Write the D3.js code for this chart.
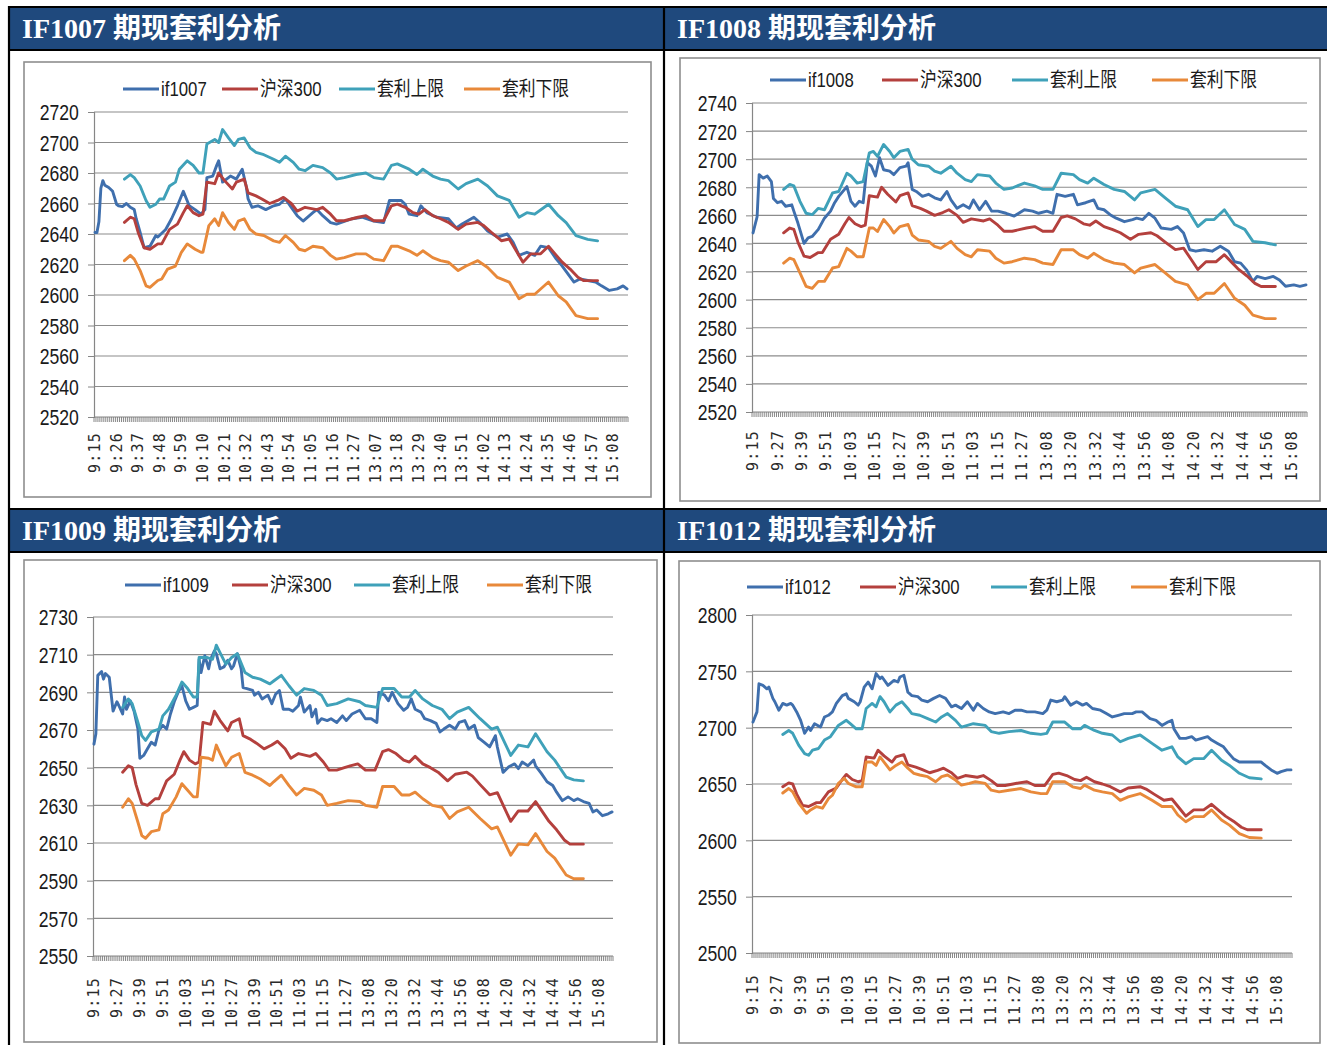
<!DOCTYPE html>
<html>
<head>
<meta charset="utf-8">
<script src="https://cdn.jsdelivr.net/npm/d3@7/dist/d3.min.js"></script>
<style>
body{margin:0;background:#fff;}
</style>
</head>
<body>
<svg id="chart" width="1327" height="1045"></svg>
<script>
// 交易时段 (期货 9:15-11:30, 13:00-15:15), 数据点为 [第几分钟, 点位]
var sessions = [["9:15","11:30"],["13:00","15:15"]];

var hs300 = [[15,2647.6],[18,2651],[20,2650],[22,2641],[25,2631],[28,2630],[32,2633.5],[34,2633.5],[38,2643],[42,2646.5],[45,2654],[47,2658.5],[50,2654],[53,2652],[55,2653],[57,2674],[61,2673],[63,2680],[66,2675],[70,2669.5],[72,2674],[76,2676],[78,2667],[82,2665],[85,2663],[89,2660],[93,2662],[96,2664],[100,2660],[103,2655],[107,2657.5],[113,2656],[116,2657.5],[120,2653],[123,2648.7],[127,2648.7],[131,2650],[134,2651],[138,2652],[142,2648.7],[147,2648.7],[151,2658.5],[154,2659.6],[158,2657.5],[162,2654],[165,2653],[168,2656],[172,2652],[176,2650],[180,2647.6],[185,2643],[189,2646.5],[195,2647.6],[198,2645.5],[202,2641],[207,2635.6],[211,2636.7],[215,2628],[218,2621.5],[222,2627],[227,2627],[231,2632],[235,2626],[238,2621.5],[242,2617],[246,2611.6],[249,2609.4],[256,2609.4]];

var if1007 = [[0,2641],[1,2641],[2,2648],[3,2670],[4,2675],[5,2672],[7,2670.5],[9,2668],[11,2659.5],[12,2658.5],[14,2658],[16,2660],[18,2657.5],[20,2656],[21,2650],[23,2641],[25,2631],[28,2632],[31,2639],[32,2638],[36,2643],[39,2650],[42,2658.5],[45,2668],[48,2658.5],[51,2656],[54,2653],[56,2656],[57,2677],[60,2678],[62,2685],[63,2688],[65,2674],[69,2678],[72,2676],[75,2682.5],[77,2671.5],[78,2663],[80,2657.5],[83,2658.5],[87,2656],[91,2658.5],[94,2659.5],[97,2663],[100,2657.5],[103,2652],[106,2648.5],[111,2654],[113,2656],[116,2652],[120,2647.5],[123,2646.5],[131,2650],[136,2651],[142,2648.5],[147,2647.5],[150,2662],[156,2662],[158,2659.5],[160,2653],[164,2652],[166,2658.5],[169,2654],[174,2651],[180,2650],[184,2644],[187,2646.5],[193,2651],[196,2647.5],[200,2642],[205,2638],[210,2640],[213,2634.5],[216,2626],[220,2628],[224,2626],[227,2632],[231,2631],[235,2623.5],[238,2619],[244,2608.5],[247,2610.5],[255,2608.5],[258,2606],[262,2603],[266,2604],[269,2606],[271,2604]];
var up1007 = [[15,2676],[18,2679],[20,2677],[23,2671.5],[26,2662],[28,2657.5],[31,2659.5],[33,2663],[35,2663],[38,2671.5],[41,2674],[43,2682.5],[47,2688],[50,2685],[53,2680],[55,2680],[57,2699],[61,2702],[63,2700],[65,2708.5],[68,2703],[71,2698],[73,2702],[76,2703],[79,2696.5],[82,2693.5],[86,2692],[91,2689],[94,2687],[97,2691],[101,2687],[104,2682.5],[107,2681.5],[111,2685],[116,2683.5],[120,2680],[123,2676],[127,2677],[133,2679],[138,2680],[142,2677],[147,2676],[151,2685],[154,2686],[160,2682.5],[164,2679],[167,2682.5],[172,2678],[176,2676],[180,2675],[185,2669.5],[189,2673],[195,2676],[200,2671.5],[205,2665],[211,2662],[216,2651],[220,2654],[224,2653],[231,2659.5],[236,2652],[240,2647.5],[245,2639],[251,2636.5],[256,2635.5]];
var low1007 = [[15,2622.5],[18,2626],[20,2623.5],[23,2616],[26,2606],[28,2605],[32,2609.5],[34,2610.5],[37,2617],[41,2619],[44,2628],[47,2633.5],[51,2630],[54,2628],[55,2628],[58,2645.5],[61,2650],[63,2645.5],[65,2654],[68,2647.5],[71,2643],[73,2648.5],[76,2650],[79,2643],[82,2640],[86,2639],[91,2635.5],[94,2634.5],[97,2639],[101,2634.5],[104,2630],[107,2629],[111,2632],[116,2631],[120,2626],[123,2623.5],[127,2624.5],[133,2627],[138,2627],[142,2623.5],[147,2622.5],[151,2632],[154,2632],[160,2629],[164,2626],[167,2629],[172,2624.5],[176,2622.5],[180,2621.5],[185,2616],[189,2619],[195,2622.5],[200,2618],[205,2611.5],[211,2608.5],[216,2597.5],[220,2600.5],[224,2600.5],[231,2608.5],[236,2599.5],[240,2595.5],[245,2586.5],[251,2584.5],[256,2584.5]];

var if1008 = [[0,2647.5],[2,2659],[3,2689],[5,2686.5],[7,2688],[9,2684],[10,2672],[12,2669],[14,2670],[16,2666.5],[19,2667.5],[20,2663],[22,2654.5],[25,2640],[27,2644],[29,2645],[32,2650],[35,2658],[38,2663],[40,2669],[42,2673.5],[46,2680.5],[48,2670],[50,2666.5],[52,2670],[54,2669],[56,2697.5],[58,2695],[60,2688],[62,2701],[64,2692.5],[67,2691.5],[69,2689],[72,2694],[75,2695],[76,2697.5],[78,2678.5],[80,2677],[83,2673.5],[86,2675],[89,2672.5],[92,2671],[95,2677],[97,2671],[100,2665],[103,2667.5],[106,2665],[108,2671],[111,2664],[114,2670],[117,2663],[120,2663],[124,2661.5],[128,2659.5],[133,2664],[137,2663],[140,2661.5],[144,2663],[147,2661.5],[149,2675],[153,2673.5],[157,2675],[159,2667.5],[163,2669],[167,2671],[169,2665],[172,2664],[175,2660.5],[178,2658],[182,2655.5],[186,2657],[188,2658],[191,2657],[194,2661.5],[197,2658],[200,2651],[205,2650],[208,2652],[211,2647.5],[214,2635.5],[217,2634.5],[221,2635.5],[225,2634.5],[229,2638],[233,2634.5],[236,2627],[239,2626],[242,2621],[245,2613],[247,2616.5],[251,2615],[255,2616.5],[258,2614],[261,2609.5],[265,2610.5],[268,2609.5],[271,2610.5]];
var up1008 = [[15,2678.5],[18,2682],[20,2681],[23,2670],[26,2661.5],[29,2660.5],[32,2665],[35,2664],[39,2676],[42,2677],[46,2690],[48,2688],[51,2683],[54,2684],[57,2704.5],[59,2705.5],[61,2702],[64,2710.5],[67,2705.5],[69,2701],[72,2705.5],[76,2707],[78,2700],[81,2696],[86,2695],[89,2691.5],[92,2690],[97,2695],[100,2690],[104,2685.5],[107,2684],[110,2689],[116,2688],[119,2683],[123,2678.5],[127,2679.5],[133,2683],[138,2681],[142,2678.5],[147,2678.5],[151,2690],[157,2689],[160,2685.5],[164,2683],[167,2686.5],[172,2682],[177,2678.5],[182,2677],[187,2671],[190,2676],[197,2678.5],[202,2672.5],[207,2666.5],[213,2664],[218,2652],[222,2657],[226,2657],[231,2664],[236,2653.5],[241,2650],[245,2641.5],[251,2640.5],[256,2639]];
var low1008 = [[15,2626],[18,2629.5],[20,2628.5],[23,2619],[26,2609.5],[29,2608],[32,2613],[35,2613],[39,2622.5],[42,2623.5],[46,2636.5],[48,2634.5],[51,2630.5],[54,2630.5],[57,2651],[59,2651],[61,2648.5],[64,2657],[67,2652],[69,2647.5],[72,2652],[76,2653.5],[78,2646],[81,2642.5],[86,2641.5],[89,2638],[92,2636.5],[97,2641.5],[100,2636.5],[104,2632],[107,2630.5],[110,2635.5],[116,2634.5],[119,2629.5],[123,2626],[127,2627],[133,2629.5],[138,2628.5],[142,2626],[147,2625],[151,2635.5],[157,2635.5],[160,2632],[164,2629.5],[167,2633],[172,2628.5],[177,2626],[182,2625],[187,2619],[190,2622.5],[197,2625],[202,2619],[207,2613],[213,2610.5],[218,2600],[222,2604.5],[226,2604.5],[231,2611.5],[236,2601],[241,2596],[245,2589],[251,2586.5],[256,2586.5]];

var if1009 = [[0,2662.5],[1,2668],[2,2699],[4,2701],[5,2697],[6,2700],[8,2698],[9,2689],[10,2680],[12,2685],[13,2683],[15,2678.5],[16,2687.5],[17,2681],[19,2685.5],[21,2680],[23,2670.5],[24,2655],[26,2656.5],[28,2660],[30,2663.5],[32,2662],[34,2670],[36,2672.5],[38,2670.5],[40,2678.5],[42,2685],[44,2690],[46,2693.5],[48,2685.5],[50,2681],[52,2682],[54,2683],[55,2707.5],[56,2700.5],[58,2709.5],[60,2702.5],[61,2707.5],[63,2712],[64,2710.5],[66,2702.5],[68,2703.5],[70,2707],[72,2702.5],[73,2704],[75,2710.5],[77,2702.5],[78,2692.5],[80,2692],[83,2691],[84,2688.5],[86,2690],[88,2686.5],[91,2688.5],[93,2684],[95,2689],[97,2691],[99,2681],[102,2681],[104,2680],[107,2683],[108,2687.5],[110,2679.5],[113,2683],[114,2677],[116,2681],[117,2673.5],[119,2676],[122,2675],[124,2676],[127,2674],[130,2677.5],[132,2675],[135,2678.5],[139,2680.5],[142,2676],[145,2676],[148,2674],[149,2690],[152,2688.5],[154,2685.5],[156,2690],[159,2684],[162,2680.5],[164,2682],[166,2686.5],[168,2681],[171,2679.5],[173,2676],[176,2675],[179,2673.5],[181,2669],[183,2670.5],[186,2672.5],[189,2670.5],[191,2674],[194,2675],[196,2670.5],[199,2672.5],[201,2666],[204,2663.5],[207,2661],[210,2667],[211,2661],[214,2647.5],[217,2650.5],[220,2652],[222,2649.5],[224,2653],[227,2651],[230,2654],[231,2651],[234,2647],[237,2642.5],[240,2640.5],[242,2637],[245,2632.5],[248,2634.5],[251,2632.5],[253,2633.5],[256,2632],[259,2631],[261,2626.5],[263,2627.5],[266,2624.5],[269,2625.5],[271,2626.5]];
var up1009 = [[15,2682],[18,2686.5],[20,2684],[23,2674],[25,2667],[27,2664.5],[30,2669],[34,2670.5],[36,2677.5],[39,2681],[43,2688.5],[46,2695.5],[49,2692],[52,2687.5],[54,2687.5],[55,2708.5],[59,2708.5],[62,2707.5],[64,2715],[66,2711],[69,2705],[72,2708.5],[75,2710.5],[79,2700.5],[83,2698],[87,2697],[92,2694.5],[94,2696],[98,2699],[102,2693.5],[106,2688.5],[110,2692],[115,2691],[119,2688.5],[122,2683],[127,2684],[133,2686.5],[139,2685],[142,2683],[148,2682],[151,2692],[157,2692],[161,2687.5],[165,2687.5],[168,2691],[172,2686.5],[177,2683],[182,2681],[186,2676],[190,2679.5],[196,2682],[202,2676],[208,2670.5],[211,2671.5],[218,2656.5],[222,2662],[227,2661],[231,2668],[237,2658.5],[241,2654],[247,2645],[251,2643.5],[256,2643]];
var low1009 = [[15,2629],[18,2633.5],[20,2631],[23,2621],[25,2614],[27,2612.5],[30,2616],[34,2617],[36,2625.5],[39,2627.5],[43,2634.5],[46,2641.5],[49,2638],[52,2634.5],[54,2634.5],[56,2655.5],[60,2655],[62,2654],[64,2662],[66,2657.5],[69,2651],[72,2655.5],[76,2657.5],[79,2647.5],[83,2646],[87,2644],[92,2640.5],[94,2642.5],[98,2646],[102,2640.5],[106,2635.5],[110,2639],[115,2638],[119,2635.5],[122,2630],[127,2631],[133,2632.5],[139,2632],[142,2630],[148,2629],[151,2640],[157,2640],[161,2635.5],[165,2635.5],[168,2637],[172,2633.5],[177,2630],[182,2629],[186,2623],[190,2626.5],[196,2629],[202,2623],[208,2617.5],[211,2618.5],[218,2603.5],[222,2609.5],[227,2609],[231,2615],[237,2605.5],[241,2602],[247,2593],[251,2591],[256,2591]];

var if1012 = [[0,2705],[2,2714],[3,2739],[5,2737.5],[7,2734.5],[8,2736],[10,2726],[11,2723],[13,2715.5],[15,2721.5],[17,2720],[19,2721.5],[20,2720],[22,2714],[24,2706.5],[26,2695],[28,2700.5],[29,2697.5],[31,2703.5],[34,2700.5],[36,2709.5],[38,2711],[40,2714],[42,2721.5],[45,2728.5],[47,2730],[48,2726],[51,2723],[53,2720],[54,2723],[56,2736],[58,2740.5],[60,2734.5],[62,2748],[64,2743.5],[65,2745],[68,2737.5],[71,2742],[73,2740.5],[74,2745],[76,2746.5],[78,2731.5],[80,2728.5],[83,2727.5],[85,2724.5],[88,2723],[91,2726],[94,2728.5],[97,2726],[100,2718.5],[102,2720],[105,2717],[108,2723],[111,2715.5],[113,2721.5],[116,2717],[119,2714],[122,2712.5],[126,2714],[129,2712.5],[132,2715.5],[135,2715.5],[138,2714],[142,2714],[146,2712.5],[148,2715.5],[150,2724.5],[153,2723],[156,2724.5],[157,2727.5],[160,2720],[163,2723],[166,2720],[168,2721.5],[171,2717],[175,2715.5],[178,2712.5],[181,2709.5],[184,2711],[187,2712.5],[191,2712.5],[193,2714],[196,2714],[200,2708],[203,2706.5],[206,2702],[209,2705],[211,2706.5],[212,2699],[215,2690.5],[218,2690.5],[221,2692],[223,2689],[226,2690.5],[229,2692],[231,2689],[234,2686],[237,2683],[239,2678.5],[242,2672.5],[245,2669.5],[248,2669.5],[250,2669.5],[253,2669.5],[256,2669.5],[258,2666.5],[261,2662.5],[264,2659.5],[266,2661],[269,2662.5],[271,2662.5]];
var up1012 = [[15,2694],[18,2697.5],[20,2695],[23,2684.5],[26,2677],[28,2675.5],[30,2680],[33,2681.5],[36,2689],[39,2692],[43,2702],[47,2706.5],[49,2703.5],[52,2699],[55,2699],[57,2717],[60,2721.5],[62,2718.5],[64,2727.5],[66,2723],[69,2714],[72,2720],[75,2723],[78,2717],[80,2712.5],[84,2711],[88,2708],[92,2705],[95,2709.5],[98,2712.5],[102,2706.5],[105,2700.5],[108,2702],[111,2703.5],[117,2702],[120,2696.5],[124,2695],[129,2696.5],[135,2697.5],[140,2695],[145,2694],[148,2695],[151,2705],[157,2705],[161,2699],[165,2699],[167,2702],[172,2697.5],[176,2695],[181,2693.5],[185,2687.5],[189,2690.5],[195,2693.5],[201,2686],[206,2680],[211,2683],[214,2674],[218,2668],[222,2672.5],[227,2672.5],[231,2680],[236,2671],[240,2666.5],[245,2659.5],[250,2655.5],[256,2654.5]];
var low1012 = [[15,2642],[18,2646],[20,2643],[23,2633],[27,2624],[29,2627],[32,2630],[35,2628.5],[38,2637],[40,2640],[43,2650.5],[46,2655],[48,2650.5],[52,2647.5],[55,2647.5],[57,2669.5],[60,2669.5],[62,2666.5],[64,2674],[66,2669.5],[69,2662.5],[72,2666.5],[75,2669.5],[78,2664],[81,2659.5],[84,2658],[88,2656.5],[92,2652],[95,2656.5],[98,2658],[102,2653.5],[105,2649],[109,2650.5],[112,2652],[117,2650.5],[120,2644.5],[124,2643],[129,2644.5],[135,2646],[140,2643],[145,2641.5],[148,2641.5],[151,2652],[157,2652],[161,2647.5],[165,2646],[167,2649],[172,2644.5],[176,2643],[181,2641.5],[185,2635.5],[189,2638.5],[195,2641.5],[201,2635.5],[206,2630],[211,2630],[214,2622.5],[218,2616.5],[222,2621],[227,2621],[231,2627],[236,2618],[240,2613.5],[245,2606],[250,2602.5],[256,2602]];

var ticks11 = ["9:15","9:26","9:37","9:48","9:59","10:10","10:21","10:32","10:43","10:54","11:05","11:16","11:27","13:07","13:18","13:29","13:40","13:51","14:02","14:13","14:24","14:35","14:46","14:57","15:08"];
var ticks12 = ["9:15","9:27","9:39","9:51","10:03","10:15","10:27","10:39","10:51","11:03","11:15","11:27","13:08","13:20","13:32","13:44","13:56","14:08","14:20","14:32","14:44","14:56","15:08"];

var seriesNames = ["沪深300","套利上限","套利下限"];
var colors = ["#3f6fad","#b4403d","#3fa1b9","#e8893a"];

// 分钟序列
var times = [];
sessions.forEach(function(s){
    var a = s[0].split(":"), b = s[1].split(":");
    for (var m = +a[0]*60 + +a[1]; m <= +b[0]*60 + +b[1]; m++) {
        times.push(Math.floor(m/60) + ":" + d3.format("02")(m%60));
    }
});

var panels = [
    {title:"IF1007 期现套利分析", code:"if1007", fut:if1007, up:up1007, low:low1007, y:[2520,2720,20], ticks:ticks11,
     head:[10,663,8,49], box:[24,62,651,497], plot:[94,628,112,417], leg:[89,[123,222,339,464]], lab:15},
    {title:"IF1008 期现套利分析", code:"if1008", fut:if1008, up:up1008, low:low1008, y:[2520,2740,20], ticks:ticks12,
     head:[665,1327,8,49], box:[680,58,1320,501], plot:[752,1307,103,412], leg:[80,[770,882,1012,1152]], lab:18},
    {title:"IF1009 期现套利分析", code:"if1009", fut:if1009, up:up1009, low:low1009, y:[2550,2730,20], ticks:ticks12,
     head:[10,663,510,551], box:[24,560,657,1042], plot:[93,613,617,956], leg:[585,[125,232,354,487]], lab:21},
    {title:"IF1012 期现套利分析", code:"if1012", fut:if1012, up:up1012, low:low1012, y:[2500,2800,50], ticks:ticks12,
     head:[665,1327,510,551], box:[679,561,1320,1043], plot:[752,1292,615,953], leg:[587,[747,860,991,1131]], lab:21}
];

var svg = d3.select("#chart");
var numFont = '"Liberation Sans Narrow","Arial Narrow","Liberation Sans","Noto Sans CJK SC",sans-serif';

// 表格底色与黑线
panels.forEach(function(p){
    svg.append("rect").attr("x",p.head[0]).attr("y",p.head[2])
        .attr("width",p.head[1]-p.head[0]).attr("height",p.head[3]-p.head[2])
        .attr("fill","#1f497d");
    svg.append("text").attr("x",p.head[0]+12).attr("y",p.head[3]-11)
        .attr("fill","#fff").style("font-family",'"Liberation Serif","Times New Roman","Noto Sans CJK SC",serif')
        .style("font-weight","bold").style("font-size","28px").text(p.title);
});
[[8,7,1327,7],[8,50,1327,50],[8,509,1327,509],[8,552,1327,552],[9,6,9,1045],[664,6,664,1045]].forEach(function(l){
    svg.append("line").attr("x1",l[0]).attr("y1",l[1]).attr("x2",l[2]).attr("y2",l[3])
        .attr("stroke","#000").attr("stroke-width",2.2);
});

panels.forEach(function(p){
    var g = svg.append("g");
    g.append("rect").attr("x",p.box[0]).attr("y",p.box[1])
        .attr("width",p.box[2]-p.box[0]).attr("height",p.box[3]-p.box[1])
        .attr("fill","#fff").attr("stroke","#8e8e8e").attr("stroke-width",1.6);

    var x = d3.scaleBand().domain(times).range([p.plot[0],p.plot[1]]);
    var y = d3.scaleLinear().domain([p.y[0],p.y[1]]).range([p.plot[3],p.plot[2]]);
    var yTicks = d3.range(p.y[0], p.y[1] + 1, p.y[2]);
    var bw = x.bandwidth();

    // 网格线
    g.selectAll(".grid").data(yTicks.slice(1)).enter().append("line")
        .attr("x1",p.plot[0]).attr("x2",p.plot[1])
        .attr("y1",function(d){return y(d);}).attr("y2",function(d){return y(d);})
        .attr("stroke","#8c8c8c").attr("stroke-width",1.2);

    // y 轴 (窄体数字: 横向压缩)
    var ya = g.append("g").attr("transform","translate(" + p.plot[0] + ",0)")
        .call(d3.axisLeft(y).tickValues(yTicks).tickSize(6).tickPadding(13).tickFormat(d3.format("d")));
    ya.select(".domain").attr("stroke","#868686").attr("stroke-width",1.2);
    ya.selectAll(".tick line").attr("stroke","#868686");
    ya.selectAll("text").attr("transform","scale(0.8,1)").attr("dy","0.36em")
        .style("font-family",numFont).style("font-size","22px").attr("fill","#1a1a1a");

    // x 轴: 每个分钟一根刻度
    var xb = p.plot[3];
    g.append("line").attr("x1",p.plot[0]).attr("x2",p.plot[1]).attr("y1",xb).attr("y2",xb)
        .attr("stroke","#868686").attr("stroke-width",1.2);
    g.selectAll(".xt").data(times.concat([null])).enter().append("line")
        .attr("x1",function(d,i){return p.plot[0] + i*bw;}).attr("x2",function(d,i){return p.plot[0] + i*bw;})
        .attr("y1",xb).attr("y2",xb+5).attr("stroke","#7a7a7a").attr("stroke-width",0.9);
    g.selectAll(".xl").data(p.ticks).enter().append("text")
        .attr("transform",function(d){return "translate(" + (x(d)+bw/2+5) + "," + (xb+p.lab) + ") rotate(-90)";})
        .attr("text-anchor","end")
        .style("font-family",'"DejaVu Sans Mono",monospace').style("font-size","15px")
        .style("letter-spacing","1.2px").attr("fill","#2a2a2a").text(function(d){return d;});

    // 折线
    var line = d3.line()
        .x(function(d){return x(times[d[0]]) + bw/2;})
        .y(function(d){return y(d[1]);});
    [p.fut, hs300, p.up, p.low].forEach(function(s,k){
        g.append("path").attr("d",line(s)).attr("fill","none")
            .attr("stroke",colors[k]).attr("stroke-width",2.9)
            .attr("stroke-linejoin","round").attr("stroke-linecap","round");
    });

    // 图例
    var names = [p.code].concat(seriesNames);
    p.leg[1].forEach(function(lx,k){
        g.append("line").attr("x1",lx).attr("x2",lx+36).attr("y1",p.leg[0]).attr("y2",p.leg[0])
            .attr("stroke",colors[k]).attr("stroke-width",3);
        g.append("text").attr("transform","translate(" + (lx+38) + "," + (p.leg[0]+7) + ") scale(0.84,1)")
            .style("font-family",numFont).style("font-size","20px").attr("fill","#1a1a1a")
            .text(names[k]);
    });
});
</script>
</body>
</html>
